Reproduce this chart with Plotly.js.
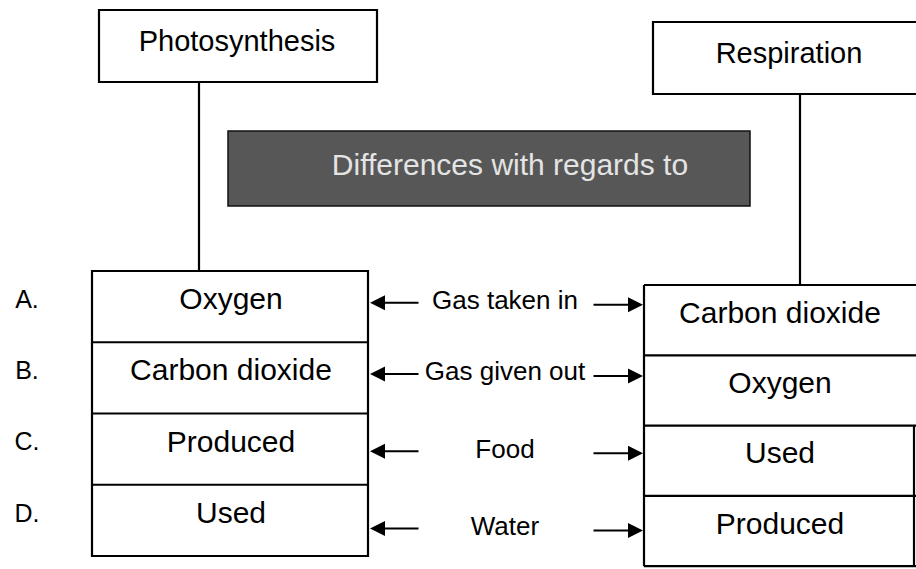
<!DOCTYPE html>
<html>
<head>
<meta charset="utf-8">
<script src="https://cdn.plot.ly/plotly-3.0.1.min.js"></script>
<style>html,body{margin:0;padding:0;background:#fff;}#chart{width:916px;height:569px;}</style>
</head>
<body>
<div id="chart"></div>
<script>
// ---- data (text content of the diagram) ----
const processes = ['Photosynthesis', 'Respiration'];
const bannerText = 'Differences with regards to';
const rowLabels = ['A.', 'B.', 'C.', 'D.'];
const photosynthesisCells = ['Oxygen', 'Carbon dioxide', 'Produced', 'Used'];
const respirationCells = ['Carbon dioxide', 'Oxygen', 'Used', 'Produced'];
const comparisons = ['Gas taken in', 'Gas given out', 'Food', 'Water'];

// ---- geometry (layout only) ----
const photoBox = {x0: 99, x1: 377, y0: 10, y1: 82, tx: 237, ty: 44};
const respBox = {x0: 653, x1: 922, y0: 22, y1: 94, tx: 789, ty: 56};
const banner = {x0: 228, x1: 750, y0: 131, y1: 206, tx: 510, ty: 167};
const leftTable = {x0: 92, x1: 368, y0: 271, rowH: 71.25, tx: 231, connX: 199};
const rightTable = {x0: 644, x1: 914, y0: 285, rowH: 70.3, tx: 780, connX: 800};
const labelX = 27;
const midX = 505;
const leftArrow = {tip: 370, tail: 420};
const rightArrow = {tail: 592, tip: 643};
const rowYOffset = [-4, -4, 2, 8];   // arrow/mid-label offset from left row centre
const textLift = -5;

const FONT = 'Liberation Sans, Arial, sans-serif';
const LINE = {color: '#000', width: 2.2};

const shapes = [];
const annotations = [];
const traces = [];

function rect(b, extra) {
  shapes.push(Object.assign({type: 'rect', xref: 'x', yref: 'y', x0: b.x0, x1: b.x1, y0: b.y0, y1: b.y1, line: LINE, fillcolor: 'rgba(0,0,0,0)', layer: 'above'}, extra || {}));
}
function line(x0, y0, x1, y1, lw) {
  shapes.push({type: 'line', xref: 'x', yref: 'y', x0, y0, x1, y1, line: lw || LINE, layer: 'above'});
}
function textTrace(xs, ys, texts, size, color) {
  traces.push({type: 'scatter', mode: 'text', x: xs, y: ys, text: texts, textposition: 'middle center',
    textfont: {family: FONT, size: size, color: color || '#000'}, hoverinfo: 'skip', showlegend: false, cliponaxis: false});
}

// process title boxes
rect(photoBox);
rect(respBox);
textTrace([photoBox.tx, respBox.tx], [photoBox.ty, respBox.ty], processes, 29);

// banner
rect(banner, {fillcolor: '#575757', line: {color: '#111', width: 1.5}, layer: 'below'});
textTrace([banner.tx], [banner.ty], [bannerText], 30, '#e4e4e4');

// tables
const nRows = photosynthesisCells.length;
const leftBounds = [], rightBounds = [];
for (let i = 0; i <= nRows; i++) {
  leftBounds.push(leftTable.y0 + i * leftTable.rowH);
  rightBounds.push(rightTable.y0 + i * rightTable.rowH);
}
rect({x0: leftTable.x0, x1: leftTable.x1, y0: leftBounds[0], y1: leftBounds[nRows]});
for (let i = 1; i < nRows; i++) line(leftTable.x0, leftBounds[i], leftTable.x1, leftBounds[i]);

// right table (runs into the right edge of the page)
line(rightTable.x0, rightBounds[0], 916, rightBounds[0]);
line(rightTable.x0, rightBounds[nRows], 916, rightBounds[nRows]);
line(rightTable.x0, rightBounds[0], rightTable.x0, rightBounds[nRows]);
line(rightTable.x1, rightBounds[2], rightTable.x1, rightBounds[nRows]);
for (let i = 1; i < nRows; i++) line(rightTable.x0, rightBounds[i], 916, rightBounds[i]);

// connectors
line(leftTable.connX, photoBox.y1, leftTable.connX, leftTable.y0);
line(rightTable.connX, respBox.y1, rightTable.connX, rightTable.y0);

// cell texts
const leftTY = [], rightTY = [], midY = [];
for (let i = 0; i < nRows; i++) {
  leftTY.push((leftBounds[i] + leftBounds[i + 1]) / 2 + textLift);
  rightTY.push((rightBounds[i] + rightBounds[i + 1]) / 2 + textLift);
  midY.push((leftBounds[i] + leftBounds[i + 1]) / 2 + rowYOffset[i]);
}
textTrace(photosynthesisCells.map(() => leftTable.tx), leftTY, photosynthesisCells, 30);
textTrace(respirationCells.map(() => rightTable.tx), rightTY, respirationCells, 30);
textTrace(rowLabels.map(() => labelX), leftTY, rowLabels, 25);
textTrace(comparisons.map(() => midX), midY, comparisons, 26);

// arrows
for (let i = 0; i < nRows; i++) {
  const common = {xref: 'x', yref: 'y', axref: 'x', ayref: 'y', text: '', showarrow: true,
    arrowhead: 2, arrowsize: 1.5, arrowwidth: 2, arrowcolor: '#000', standoff: 0, startstandoff: 0};
  annotations.push(Object.assign({}, common, {x: leftArrow.tip, y: midY[i], ax: leftArrow.tail, ay: midY[i]}));
  annotations.push(Object.assign({}, common, {x: rightArrow.tip, y: midY[i] + 2, ax: rightArrow.tail, ay: midY[i] + 2}));
}

const layout = {
  width: 916, height: 569,
  margin: {l: 0, r: 0, t: 0, b: 0, pad: 0},
  paper_bgcolor: '#fff', plot_bgcolor: '#fff',
  xaxis: {range: [0, 916], visible: false, fixedrange: true},
  yaxis: {range: [569, 0], visible: false, fixedrange: true},
  showlegend: false,
  shapes: shapes,
  annotations: annotations
};
Plotly.newPlot('chart', traces, layout, {staticPlot: true, displayModeBar: false});
</script>
</body>
</html>
